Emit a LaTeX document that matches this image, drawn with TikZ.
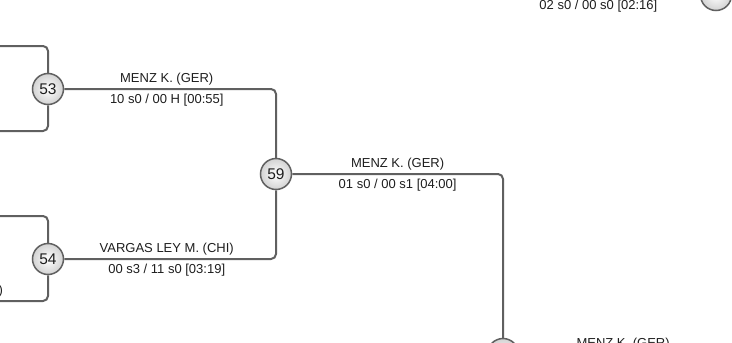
\documentclass[tikz,border=0pt]{standalone}
\usepackage{fontspec}
\setmainfont{Liberation Sans}
\usepackage{xcolor}
\definecolor{linegray}{RGB}{96, 96, 96}
\definecolor{textgray}{RGB}{30, 30, 30}

\begin{document}
\begin{tikzpicture}[
    x=1pt, y=-1pt,
    match/.style={circle, draw=linegray, line width=1.5pt, minimum size=31pt,
        inner sep=0pt, inner color=white, outer color=gray!35,
        text=textgray, font=\fontsize{15.5}{17}\selectfont},
    link/.style={draw=linegray, line width=2pt, rounded corners=5pt},
    who/.style={text=textgray, font=\fontsize{13}{15}\selectfont, yshift=10pt},
    score/.style={text=textgray, font=\fontsize{13}{15}\selectfont, yshift=-11pt}
]
    \useasboundingbox (0, 0) rectangle (732, 343);
    \clip (0, 0) rectangle (732, 343);

    % ==========================================
    % MATCH NODES
    % ==========================================
    \node[match] (m53) at (48, 89)  {53};
    \node[match] (m54) at (48, 259) {54};
    \node[match] (m59) at (276, 174) {59};
    \node[match] (m_bot) at (503, 354) {};
    \node[match] (m_top) at (716, -5) {};

    % Free ends leaving the picture
    \coordinate (m53_up)   at (-20, 46);
    \coordinate (m53_down) at (-20, 131);
    \coordinate (m54_up)   at (-20, 216);
    \coordinate (m54_down) at (-20, 301);
    \coordinate (bot_out)  at (727, 354);
    \coordinate (top_out)  at (497, -5);

    % ==========================================
    % FIRST COLUMN (53 / 54)
    % ==========================================
    \draw[link] (m53.north) |- (m53_up);
    \draw[link] (m53.south) |- (m53_down);
    \draw[link] (m54.north) |- (m54_up);
    \draw[link] (m54.south) |- (m54_down);

    \node[text=textgray, font=\fontsize{13}{15}\selectfont, anchor=east] at (6.5, 291) {VARGAS LEY M. (CHI)};

    % 53 -> 59 and 54 -> 59
    \draw[link] (m53.east) -| (m59.north)
        node[pos=0.242, who] {MENZ K. (GER)}
        node[pos=0.242, score] {10 s0 / 00 H [00:55]};
    \draw[link] (m54.east) -| (m59.south)
        node[pos=0.242, who] {VARGAS LEY M. (CHI)}
        node[pos=0.242, score] {00 s3 / 11 s0 [03:19]};

    % ==========================================
    % SECOND COLUMN (59 -> next)
    % ==========================================
    \draw[link] (m59.east) -| (m_bot.north)
        node[pos=0.25, who] {MENZ K. (GER)}
        node[pos=0.25, score] {01 s0 / 00 s1 [04:00]};

    \draw[link] (m_bot.east) -- (bot_out)
        node[midway, who] {MENZ K. (GER)};

    % Top right match (mostly outside)
    \draw[link] (m_top.west) -- (top_out)
        node[midway, score] {02 s0 / 00 s0 [02:16]};

\end{tikzpicture}
\end{document}
